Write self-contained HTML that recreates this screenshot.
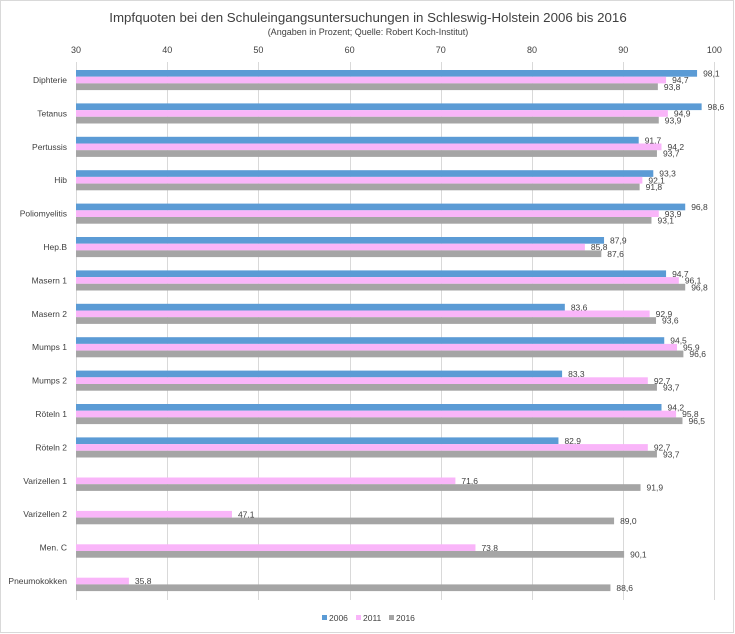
<!DOCTYPE html>
<html><head><meta charset="utf-8"><style>
body{margin:0;background:#fff}
svg{display:block;font-family:"Liberation Sans",sans-serif}
</style></head><body>
<svg width="735" height="634" viewBox="0 0 735 634" xmlns="http://www.w3.org/2000/svg">
<rect x="0.5" y="0.5" width="733" height="632" fill="#fff" stroke="#d9d9d9"/>
<text x="368" y="22" text-anchor="middle" font-size="13.3" fill="#404040">Impfquoten bei den Schuleingangsuntersuchungen in Schleswig-Holstein 2006 bis 2016</text>
<text x="368" y="35" text-anchor="middle" font-size="9" fill="#404040">(Angaben in Prozent; Quelle: Robert Koch-Institut)</text>
<g id="grid" stroke="#d9d9d9" stroke-width="1"></g>
<g id="ticks" font-size="9" fill="#404040" text-anchor="middle"></g>
<g id="bars"></g>
<g font-size="8.5" fill="#404040">
<rect x="322" y="615" width="5" height="5" fill="#5b9bd5"/><text x="329" y="621">2006</text>
<rect x="356" y="615" width="5" height="5" fill="#f9b5f9"/><text x="363" y="621">2011</text>
<rect x="389" y="615" width="5" height="5" fill="#a5a5a5"/><text x="396" y="621">2016</text>
</g>
</svg>
<script>
const ns="http://www.w3.org/2000/svg";
const X=v=>76+(v-30)*9.12;
const g=document.getElementById('grid'),t=document.getElementById('ticks'),b=document.getElementById('bars');
function el(p,n,a,txt){const e=document.createElementNS(ns,n);for(const k in a)e.setAttribute(k,a[k]);if(txt!==undefined)e.textContent=txt;p.appendChild(e);return e;}
for(let v=30;v<=100;v+=10){const x=Math.round(X(v))+0.5;el(g,'line',{x1:x,x2:x,y1:62,y2:600});el(t,'text',{x:X(v),y:53},String(v));}
const d=[["Diphterie",98.1,94.7,93.8],["Tetanus",98.6,94.9,93.9],["Pertussis",91.7,94.2,93.7],["Hib",93.3,92.1,91.8],["Poliomyelitis",96.8,93.9,93.1],["Hep.B",87.9,85.8,87.6],["Masern 1",94.7,96.1,96.8],["Masern 2",83.6,92.9,93.6],["Mumps 1",94.5,95.9,96.6],["Mumps 2",83.3,92.7,93.7],["Röteln 1",94.2,95.8,96.5],["Röteln 2",82.9,92.7,93.7],["Varizellen 1",null,71.6,91.9],["Varizellen 2",null,47.1,89.0],["Men. C",null,73.8,90.1],["Pneumokokken",null,35.8,88.6]];
const cols=["#5b9bd5","#f9b5f9","#a5a5a5"];
d.forEach((r,i)=>{const y0=70+i*33.4;
el(b,'text',{x:67,y:y0+13,'text-anchor':'end','font-size':'8.5',fill:'#404040'},r[0]);
for(let k=0;k<3;k++){const v=r[k+1];if(v==null)continue;const y=y0+k*6.7;
el(b,'rect',{x:76,y:y,width:X(v)-76,height:6.7,fill:cols[k]});
el(b,'text',{x:X(v)+6,y:y+6.5,'font-size':'8.5',fill:'#404040'},v.toFixed(1).replace('.',','));}
});
</script>
</body></html>
